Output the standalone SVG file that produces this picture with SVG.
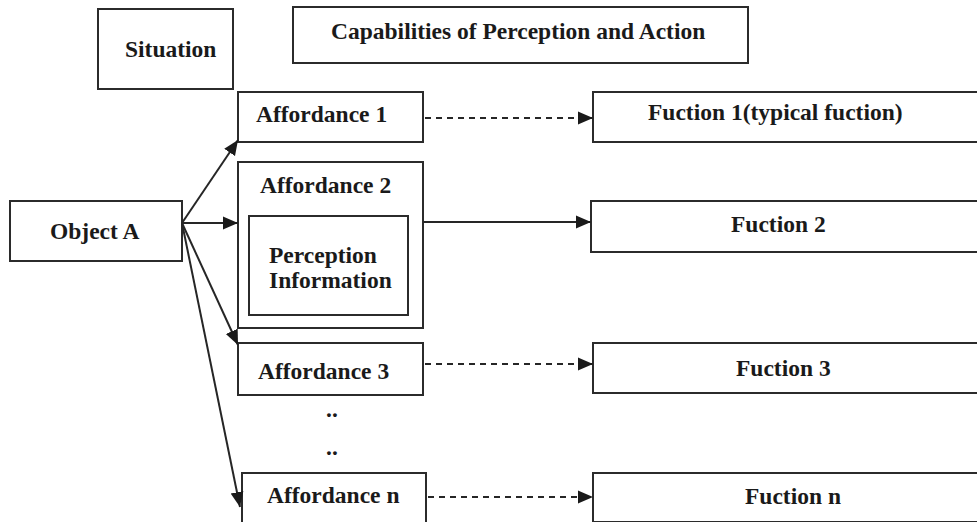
<svg xmlns="http://www.w3.org/2000/svg" width="977" height="522" viewBox="0 0 977 522">
  <style>
    .box { fill: #ffffff; stroke: #2b2b2b; stroke-width: 2; }
    .lbl { font-family: "Liberation Serif", "Times New Roman", serif; font-weight: bold; font-size: 23.5px; fill: #1a1a1a; }
    .edge { fill: none; stroke: #262626; stroke-width: 2; }
    .dash { stroke-dasharray: 6 5; }
  </style>
  <defs>
    <marker id="arrow" markerUnits="userSpaceOnUse" markerWidth="16" markerHeight="14" refX="15" refY="7" orient="auto">
      <path d="M0,0.5 L15,7 L0,13.5 Z" fill="#1a1a1a"/>
    </marker>
  </defs>
  <rect width="977" height="522" fill="#ffffff"/>

  <g id="situation">
    <rect class="box" x="98" y="9" width="135" height="80"/>
    <text class="lbl" x="125" y="57">Situation</text>
  </g>
  <g id="capabilities">
    <rect class="box" x="293" y="7" width="455" height="56"/>
    <text class="lbl" x="331" y="39">Capabilities of Perception and Action</text>
  </g>
  <g id="object-a">
    <rect class="box" x="10" y="201" width="172" height="60"/>
    <text class="lbl" x="50" y="239">Object A</text>
  </g>
  <g id="affordance-1">
    <rect class="box" x="238" y="92" width="185" height="50"/>
    <text class="lbl" x="256" y="122">Affordance 1</text>
  </g>
  <g id="affordance-2">
    <rect class="box" x="238" y="162" width="185" height="166"/>
    <text class="lbl" x="260" y="193">Affordance 2</text>
  </g>
  <g id="perception-information">
    <rect class="box" x="249" y="216" width="159" height="99"/>
    <text class="lbl" x="269" y="263">Perception</text>
    <text class="lbl" x="269" y="288">Information</text>
  </g>
  <g id="affordance-3">
    <rect class="box" x="238" y="343" width="185" height="52"/>
    <text class="lbl" x="258" y="379">Affordance 3</text>
  </g>
  <g id="ellipsis">
    <text class="lbl" x="326" y="417" fill="#1c2440">..</text>
    <text class="lbl" x="326" y="455" fill="#1c2440">..</text>
  </g>
  <g id="affordance-n">
    <rect class="box" x="242" y="473" width="184" height="55"/>
    <text class="lbl" x="267" y="503">Affordance n</text>
  </g>
  <g id="function-1">
    <rect class="box" x="593" y="92" width="400" height="50"/>
    <text class="lbl" x="648" y="120">Fuction 1(typical fuction)</text>
  </g>
  <g id="function-2">
    <rect class="box" x="591" y="201" width="402" height="51"/>
    <text class="lbl" x="731" y="232">Fuction 2</text>
  </g>
  <g id="function-3">
    <rect class="box" x="593" y="343" width="400" height="50"/>
    <text class="lbl" x="736" y="376">Fuction 3</text>
  </g>
  <g id="function-n">
    <rect class="box" x="593" y="473" width="400" height="49"/>
    <text class="lbl" x="745" y="504">Fuction n</text>
  </g>

  <g id="connectors">
    <line class="edge" x1="182" y1="223" x2="238" y2="140" marker-end="url(#arrow)"/>
    <line class="edge" x1="182" y1="223" x2="238" y2="223" marker-end="url(#arrow)"/>
    <line class="edge" x1="182" y1="223" x2="238" y2="345" marker-end="url(#arrow)"/>
    <line class="edge" x1="182" y1="223" x2="240" y2="507" marker-end="url(#arrow)"/>
    <line class="edge dash" x1="425" y1="118" x2="593" y2="118" marker-end="url(#arrow)"/>
    <line class="edge" x1="423" y1="222" x2="591" y2="222" marker-end="url(#arrow)"/>
    <line class="edge dash" x1="425" y1="364" x2="593" y2="364" marker-end="url(#arrow)"/>
    <line class="edge dash" x1="428" y1="497" x2="593" y2="497" marker-end="url(#arrow)"/>
  </g>
</svg>
